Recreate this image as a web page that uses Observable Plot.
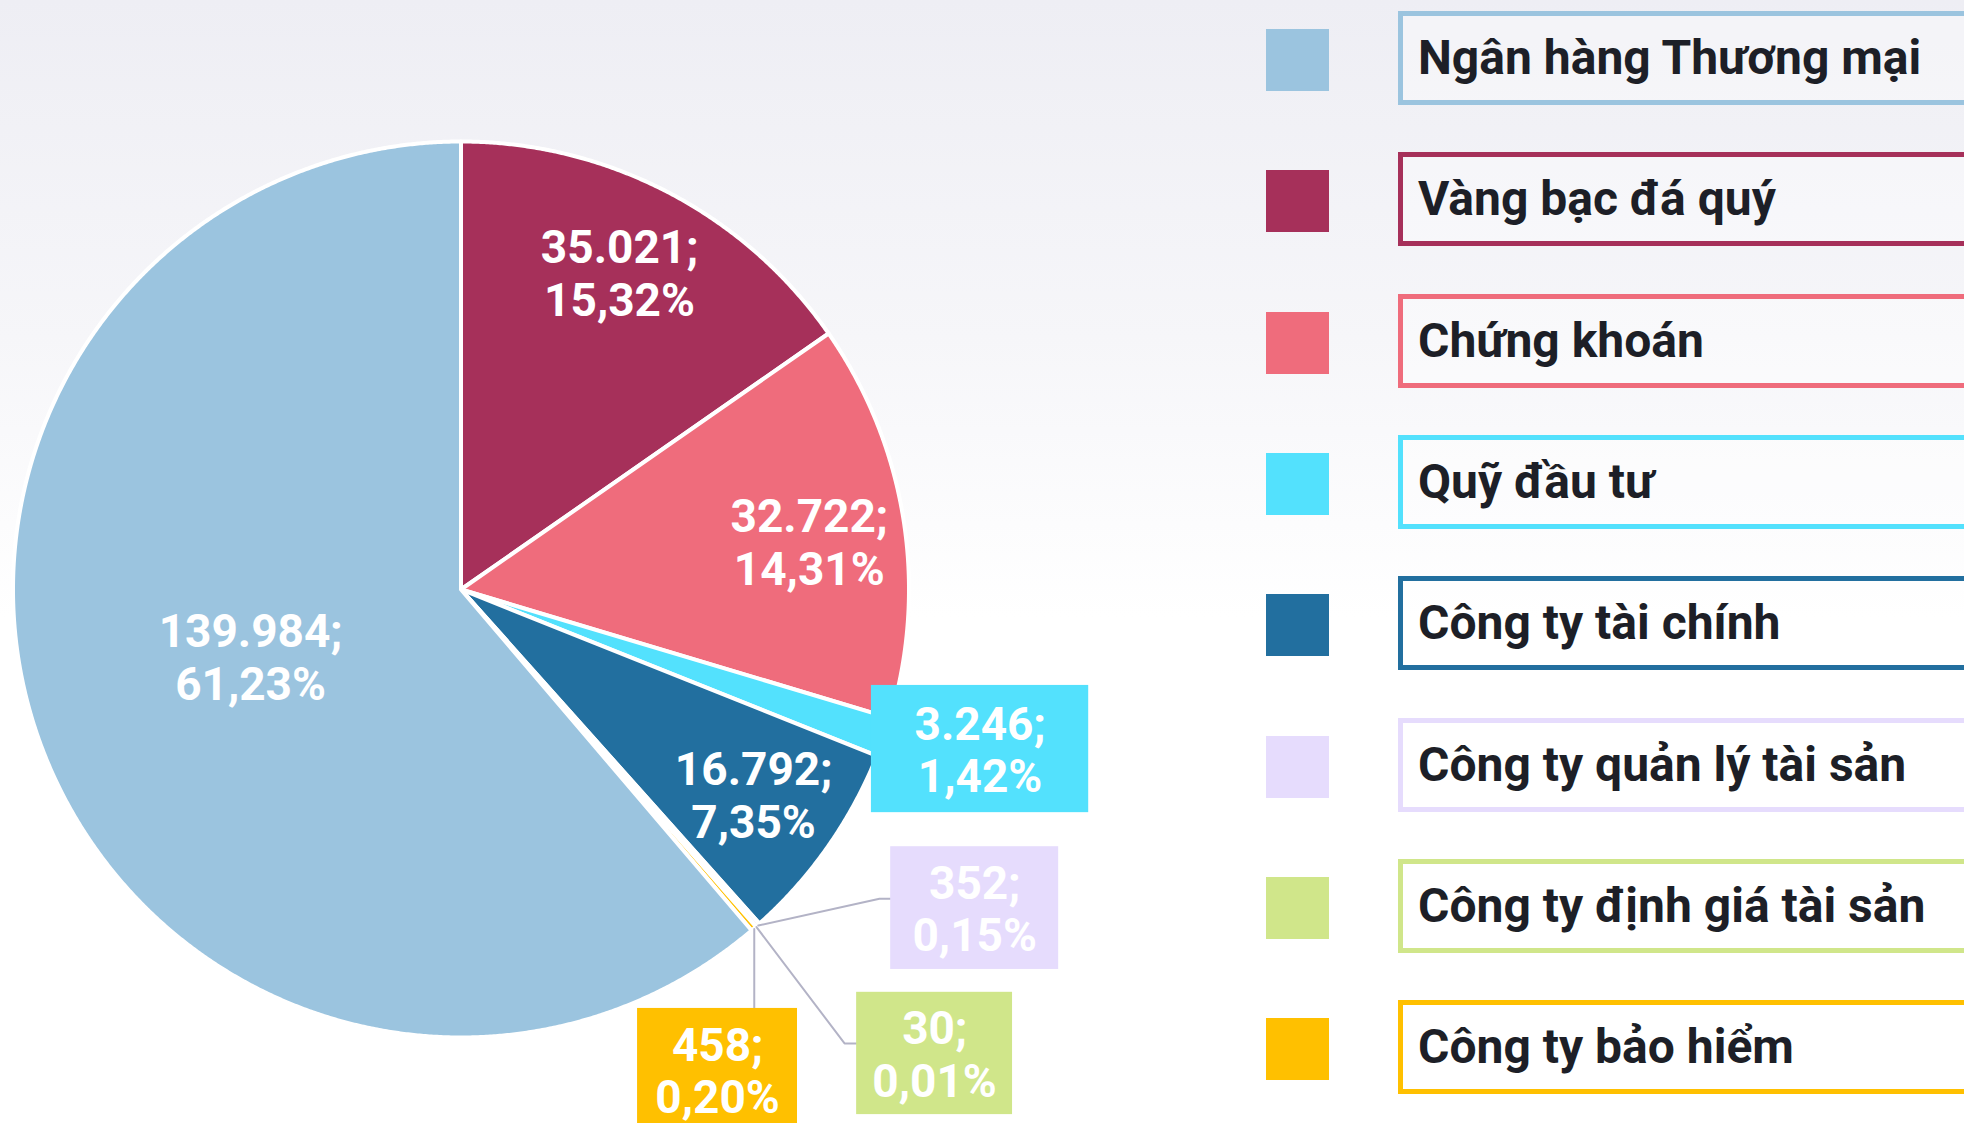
<!DOCTYPE html>
<html>
<head>
<meta charset="utf-8">
<script src="https://cdn.jsdelivr.net/npm/d3@7"></script>
<script src="https://cdn.jsdelivr.net/npm/@observablehq/plot@0.6"></script>
<style>
  html, body { margin: 0; padding: 0; }
  body {
    width: 1964px; height: 1123px; overflow: hidden; position: relative;
    background: linear-gradient(to bottom, #eeeef4 0%, #f6f6f9 30%, #ffffff 55%, #ffffff 100%);
    font-family: Roboto, "Noto Sans", sans-serif;
  }
  #chart { position: absolute; left: 0; top: 0; }
  #legend { position: absolute; left: 0; top: 0; width: 1964px; height: 1123px; }
  .sw { position: absolute; left: 1266px; width: 63px; height: 62px; }
  .lb {
    position: absolute; left: 1398px; width: 700px; height: 84px;
    border: 5px solid; box-sizing: content-box;
    font-size: 48px; font-weight: 700; line-height: 84px; color: #1d1f27;
    padding-left: 15px; white-space: nowrap;
    background: rgba(255,255,255,0.35);
  }
</style>
</head>
<body>
<div id="chart"></div>
<div id="legend"></div>
<script>
// ---- data ----
const names = ["Ngân hàng Thương mại", "Vàng bạc đá quý", "Chứng khoán", "Quỹ đầu tư",
               "Công ty tài chính", "Công ty quản lý tài sản", "Công ty định giá tài sản", "Công ty bảo hiểm"];
const values = [139984, 35021, 32722, 3246, 16792, 352, 30, 458];
const valueLabels = ["139.984", "35.021", "32.722", "3.246", "16.792", "352", "30", "458"];
const percentLabels = ["61,23%", "15,32%", "14,31%", "1,42%", "7,35%", "0,15%", "0,01%", "0,20%"];
const colors = ["#9bc4df", "#a6305a", "#ef6c7c", "#53e1fd", "#226f9f", "#e6dcfd", "#d0e68a", "#ffc000"];
// clockwise order of slices from 12 o'clock
const drawOrder = [1, 2, 3, 4, 5, 6, 7, 0];

// ---- layout (pie units: radius = 1) ----
// inside labels: [radius fraction along mid-angle, nudge x, nudge y]
const insideLabelLayout = {0: [0.49, -0.011, -0.02], 1: [0.786, -0.011, -0.011], 2: [0.78, 0.006, 0.015], 4: [0.796, 0, 0]};
const callouts = [
  {i: 3, box: [0.915, 1.400, 0.213, 0.497], elbow: null, leader: false},
  {i: 5, box: [0.958, 1.333, 0.573, 0.847], elbow: [0.933, 0.689], leader: true},
  {i: 6, box: [0.882, 1.230, 0.898, 1.171], elbow: [0.855, 1.012], leader: true},
  {i: 7, box: [0.393, 0.750, 0.934, 1.209], elbow: null, leader: true}
];

// ---- geometry from data ----
const total = d3.sum(values);
let cum = 0;
const slices = drawOrder.map(i => {
  const a0 = cum / total * 2 * Math.PI;
  cum += values[i];
  const a1 = cum / total * 2 * Math.PI;
  return {i, a0, a1, mid: (a0 + a1) / 2};
});
const sliceOf = Object.fromEntries(slices.map(s => [s.i, s]));

const arcPts = [];
for (const s of slices) {
  const n = Math.max(1, Math.ceil((s.a1 - s.a0) / (Math.PI / 720)));
  for (let k = 0; k <= n; k++) {
    const a = s.a0 + (s.a1 - s.a0) * k / n;
    arcPts.push({name: names[s.i], x2: Math.sin(a), y2: -Math.cos(a)});
  }
}

const labelText = i => valueLabels[i] + ";\n" + percentLabels[i];

const inside = Object.entries(insideLabelLayout).map(([k, [r, nx, ny]]) => {
  const s = sliceOf[+k];
  return {x: r * Math.sin(s.mid) + nx, y: -r * Math.cos(s.mid) + ny, text: labelText(+k)};
});

const boxes = callouts.map(c => ({
  name: names[c.i], x1: c.box[0], x2: c.box[1], y1: c.box[2], y2: c.box[3],
  cx: (c.box[0] + c.box[1]) / 2, cy: (c.box[2] + c.box[3]) / 2, text: labelText(c.i)
}));

const leaderPts = [];
for (const c of callouts) {
  if (!c.leader) continue;
  const s = sliceOf[c.i];
  const ox = Math.sin(s.mid), oy = -Math.cos(s.mid);
  leaderPts.push({name: names[c.i], x: ox, y: oy});
  if (c.elbow) {
    leaderPts.push({name: names[c.i], x: c.elbow[0], y: c.elbow[1]});
    leaderPts.push({name: names[c.i], x: c.box[0], y: c.elbow[1]});
  } else {
    leaderPts.push({name: names[c.i], x: ox, y: c.box[2]});
  }
}

const textOpts = {
  text: "text", fill: "white", fontSize: 46, fontWeight: "bold",
  fontFamily: "Roboto", lineHeight: 1.15, textAnchor: "middle"
};

const chart = Plot.plot({
  width: 1240, height: 1123, margin: 0,
  x: {domain: [-1, 1], range: [13, 909], axis: null},
  y: {domain: [-1, 1], range: [141.5, 1037.5], axis: null},
  color: {domain: names, range: colors},
  style: {background: "transparent", overflow: "visible"},
  marks: [
    Plot.area(arcPts, {x1: 0, y1: 0, x2: "x2", y2: "y2", z: "name", fill: "name",
      stroke: "white", strokeWidth: 4, strokeLinejoin: "round"}),
    Plot.line(leaderPts, {x: "x", y: "y", z: "name", stroke: "#b3b3c6", strokeWidth: 2}),
    Plot.rect(boxes, {x1: "x1", x2: "x2", y1: "y1", y2: "y2", fill: "name"}),
    Plot.text(inside, {x: "x", y: "y", ...textOpts}),
    Plot.text(boxes, {x: "cx", y: "cy", ...textOpts})
  ]
});
document.getElementById("chart").appendChild(chart);

// ---- legend ----
const legend = document.getElementById("legend");
names.forEach((n, k) => {
  const c = 60 + 141.3 * k;
  const sw = document.createElement("div");
  sw.className = "sw";
  sw.style.top = (c - 31) + "px";
  sw.style.background = colors[k];
  legend.appendChild(sw);
  const lb = document.createElement("div");
  lb.className = "lb";
  lb.style.top = (c - 2 - 47) + "px";
  lb.style.borderColor = colors[k];
  lb.textContent = n;
  legend.appendChild(lb);
});
</script>
</body>
</html>
